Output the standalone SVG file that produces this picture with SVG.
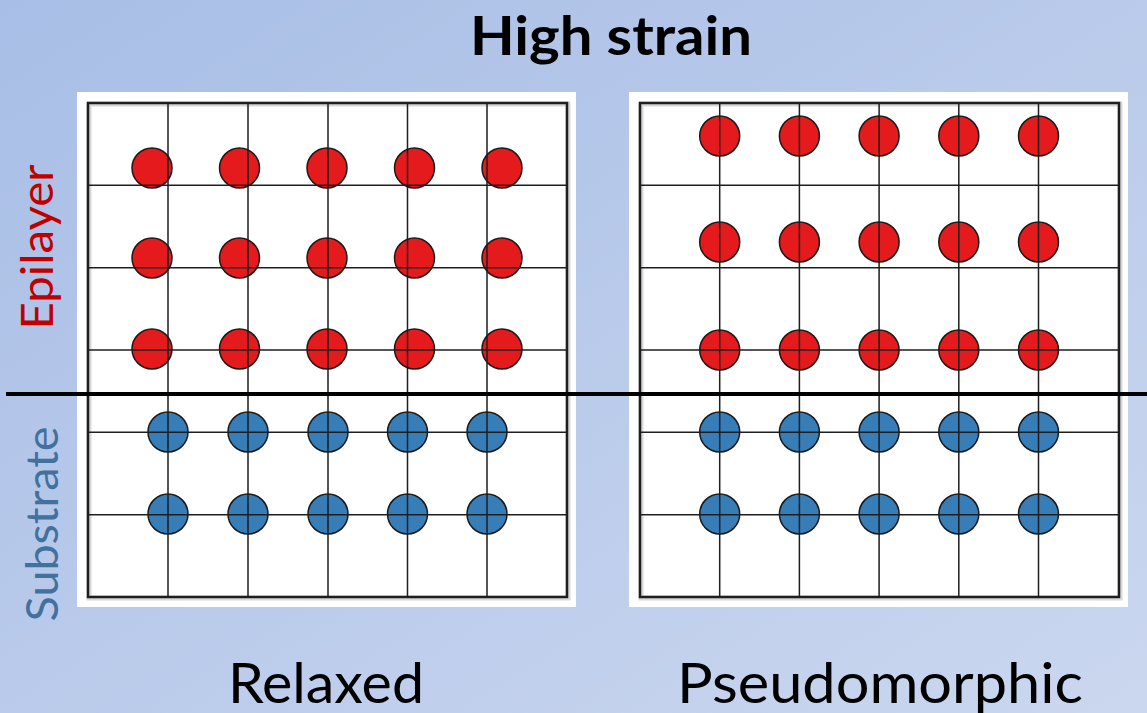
<svg xmlns="http://www.w3.org/2000/svg" width="1147" height="713" viewBox="0 0 1147 713">
<defs>
<linearGradient id="bg" x1="0" y1="0" x2="1" y2="1">
<stop offset="0" stop-color="#A8BEE6"/>
<stop offset="1" stop-color="#CBD7EF"/>
</linearGradient>
</defs>
<style>
.frame{fill:#ffffff}
.box{fill:none;stroke:#1e1e1e;stroke-width:2.5}
.shadow{fill:none;stroke:#9a9a9a;stroke-width:5;opacity:0.4}
.grid{stroke:#1e1e1e;stroke-width:1.5;fill:none}
.red{fill:#E41A1C;stroke:#1a1a1a;stroke-width:1.5}
.blue{fill:#377EB8;stroke:#1a1a1a;stroke-width:1.5}
.lbl{font-family:Lato,"Open Sans","Liberation Sans",sans-serif;fill:#000}
</style>
<rect x="0" y="0" width="1147" height="713" fill="url(#bg)"/>

<text id="title" class="lbl" x="611" y="55" font-size="54" font-weight="bold" text-anchor="middle" textLength="282" lengthAdjust="spacingAndGlyphs">High strain</text>

<g id="relaxed-panel">
<rect class="frame" x="77" y="92" width="499" height="515"/>
<rect class="shadow" x="89" y="104" width="479" height="494"/>
<g id="relaxed-atoms">
<circle class="red" cx="152" cy="168" r="20"/><circle class="red" cx="239.5" cy="168" r="20"/><circle class="red" cx="327" cy="168" r="20"/><circle class="red" cx="414.5" cy="168" r="20"/><circle class="red" cx="502" cy="168" r="20"/>
<circle class="red" cx="152" cy="258" r="20"/><circle class="red" cx="239.5" cy="258" r="20"/><circle class="red" cx="327" cy="258" r="20"/><circle class="red" cx="414.5" cy="258" r="20"/><circle class="red" cx="502" cy="258" r="20"/>
<circle class="red" cx="152" cy="349" r="20"/><circle class="red" cx="239.5" cy="349" r="20"/><circle class="red" cx="327" cy="349" r="20"/><circle class="red" cx="414.5" cy="349" r="20"/><circle class="red" cx="502" cy="349" r="20"/>
<circle class="blue" cx="168" cy="432" r="20"/><circle class="blue" cx="248" cy="432" r="20"/><circle class="blue" cx="328" cy="432" r="20"/><circle class="blue" cx="407.5" cy="432" r="20"/><circle class="blue" cx="487" cy="432" r="20"/>
<circle class="blue" cx="168" cy="514" r="20"/><circle class="blue" cx="248" cy="514" r="20"/><circle class="blue" cx="328" cy="514" r="20"/><circle class="blue" cx="407.5" cy="514" r="20"/><circle class="blue" cx="487" cy="514" r="20"/>
</g>
<path class="grid" d="M168 103V597M248 103V597M328 103V597M407.5 103V597M487 103V597M88 185.3H567M88 267.7H567M88 350H567M88 432.3H567M88 514.7H567"/>
<rect class="box" x="88" y="103" width="479" height="494"/>
</g>

<g id="pseudomorphic-panel">
<rect class="frame" x="629" y="92" width="499" height="515"/>
<rect class="shadow" x="641" y="104" width="479" height="494"/>
<g id="pseudomorphic-atoms">
<circle class="red" cx="719.7" cy="136" r="20"/><circle class="red" cx="799.4" cy="136" r="20"/><circle class="red" cx="879.1" cy="136" r="20"/><circle class="red" cx="958.8" cy="136" r="20"/><circle class="red" cx="1038.5" cy="136" r="20"/>
<circle class="red" cx="719.7" cy="242" r="20"/><circle class="red" cx="799.4" cy="242" r="20"/><circle class="red" cx="879.1" cy="242" r="20"/><circle class="red" cx="958.8" cy="242" r="20"/><circle class="red" cx="1038.5" cy="242" r="20"/>
<circle class="red" cx="719.7" cy="350" r="20"/><circle class="red" cx="799.4" cy="350" r="20"/><circle class="red" cx="879.1" cy="350" r="20"/><circle class="red" cx="958.8" cy="350" r="20"/><circle class="red" cx="1038.5" cy="350" r="20"/>
<circle class="blue" cx="719.7" cy="432" r="20"/><circle class="blue" cx="799.4" cy="432" r="20"/><circle class="blue" cx="879.1" cy="432" r="20"/><circle class="blue" cx="958.8" cy="432" r="20"/><circle class="blue" cx="1038.5" cy="432" r="20"/>
<circle class="blue" cx="719.7" cy="514" r="20"/><circle class="blue" cx="799.4" cy="514" r="20"/><circle class="blue" cx="879.1" cy="514" r="20"/><circle class="blue" cx="958.8" cy="514" r="20"/><circle class="blue" cx="1038.5" cy="514" r="20"/>
</g>
<path class="grid" d="M719.7 103V597M799.4 103V597M879.1 103V597M958.8 103V597M1038.5 103V597M640 185.3H1119M640 267.7H1119M640 350H1119M640 432.3H1119M640 514.7H1119"/>
<rect class="box" x="640" y="103" width="479" height="494"/>
</g>

<g id="interface">
<line x1="6" y1="394" x2="1147" y2="394" stroke="#000" stroke-width="4"/>
</g>

<text id="epilayer" class="lbl" transform="translate(53,247) rotate(-90)" x="0" y="0" font-size="45" style="fill:#C00000" text-anchor="middle" textLength="165" lengthAdjust="spacingAndGlyphs">Epilayer</text>
<text id="substrate" class="lbl" transform="translate(58,524) rotate(-90)" x="0" y="0" font-size="45" style="fill:#41719C" text-anchor="middle" textLength="195" lengthAdjust="spacingAndGlyphs">Substrate</text>

<text id="relaxed" class="lbl" x="326" y="703" font-size="57" text-anchor="middle" textLength="196" lengthAdjust="spacingAndGlyphs">Relaxed</text>
<text id="pseudomorphic" class="lbl" x="880" y="703" font-size="57" text-anchor="middle" textLength="406" lengthAdjust="spacingAndGlyphs">Pseudomorphic</text>
</svg>
